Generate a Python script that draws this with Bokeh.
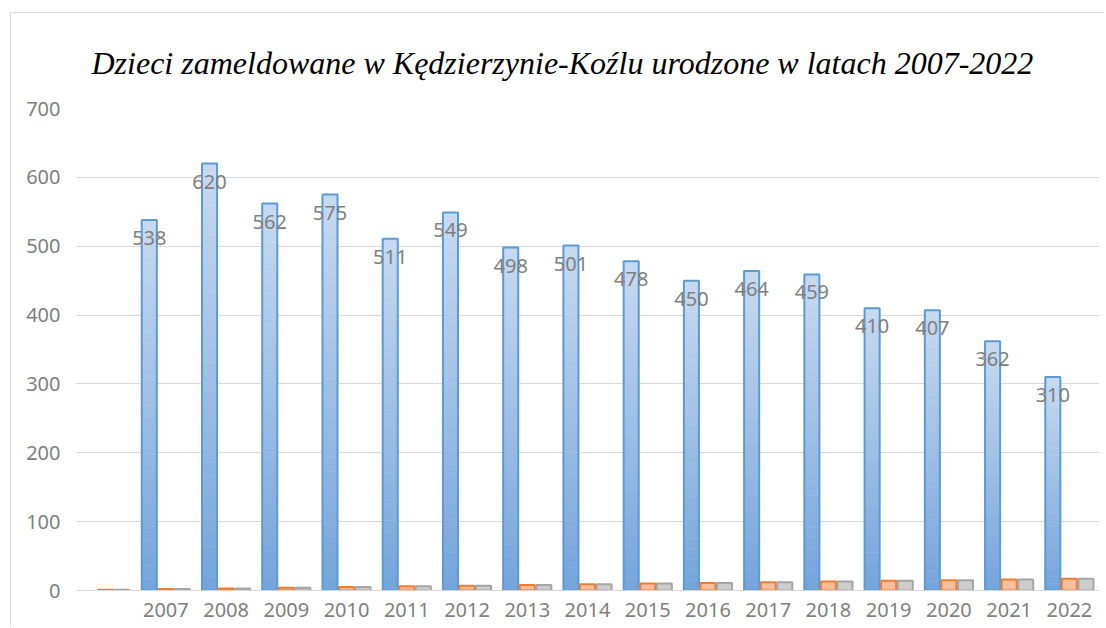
import numpy as np
from bokeh.plotting import figure
from bokeh.models import FixedTicker, Range1d
from bokeh.core.properties import value
from bokeh.embed import file_html
from bokeh.resources import INLINE

# ---- data ----
categories = ["", "2007", "2008", "2009", "2010", "2011", "2012", "2013", "2014",
              "2015", "2016", "2017", "2018", "2019", "2020", "2021", "2022"]
births = [None, 538, 620, 562, 575, 511, 549, 498, 501, 478, 450, 464, 459,
          410, 407, 362, 310]
series2 = [1, 2, 3, 4, 5, 6, 7, 8, 9, 10, 11, 12, 13, 14, 15, 16, 17]
series3 = [1, 2, 3, 4, 5, 6, 7, 8, 9, 10, 11, 12, 13, 14, 15, 16, 17]
y_ticks = [0, 100, 200, 300, 400, 500, 600, 700]
title_text = "Dzieci zameldowane w Kędzierzynie-Koźlu urodzone w latach 2007-2022"

# ---- style ----
BAR_W = 0.25
OFF = 0.275
LABEL_FONT = "Noto Sans"
GRAY_TXT = "#7f7f7f"

p = figure(width=1094, height=614,
           x_range=Range1d(0, len(categories)), y_range=Range1d(0, 700),
           output_backend="svg", toolbar_location=None,
           min_border_left=64, min_border_right=6, min_border_top=95,
           min_border_bottom=37)
p.margin = (12, 0, 0, 10)
p.styles = {"border-top": "1px solid #d9d9d9", "border-left": "1px solid #d9d9d9"}

p.title.text = title_text
p.title.text_font = "Liberation Serif"
p.title.text_font_style = "italic"
p.title.text_font_size = "32px"
p.title.text_color = "#000000"
p.title.align = "left"
p.title.offset = 16
p.title.standoff = 56

p.outline_line_color = None
p.background_fill_color = "white"
p.border_fill_color = "white"

# axes
centers = [i + 0.5 for i in range(len(categories))]
p.xaxis.ticker = FixedTicker(ticks=centers)
p.xaxis.major_label_overrides = {c: lab for c, lab in zip(centers, categories)}
p.xaxis.axis_line_color = "#d9d9d9"
p.xaxis.axis_line_width = 1
p.xaxis.major_tick_line_color = None
p.xaxis.minor_tick_line_color = None
p.xaxis.major_label_text_font = LABEL_FONT
p.xaxis.major_label_text_font_size = "20px"
p.xaxis.major_label_text_color = GRAY_TXT
p.xaxis.major_label_standoff = 6

p.yaxis.ticker = FixedTicker(ticks=y_ticks)
p.yaxis.axis_line_color = None
p.yaxis.major_tick_line_color = None
p.yaxis.minor_tick_line_color = None
p.yaxis.major_label_text_font = LABEL_FONT
p.yaxis.major_label_text_font_size = "20px"
p.yaxis.major_label_text_color = GRAY_TXT
p.yaxis.major_label_standoff = 9

p.xgrid.grid_line_color = None
p.ygrid.ticker = FixedTicker(ticks=y_ticks)
p.ygrid.grid_line_color = "#d9d9d9"
p.ygrid.grid_line_width = 1

# ---- blue bars with vertical gradient ----
N = 30
light = np.array([0xc8, 0xda, 0xf0])
dark = np.array([0x74, 0xa4, 0xda])
gx, gb, gt, gc = [], [], [], []
bx, bt, lab = [], [], []
for i, v in enumerate(births):
    if v is None:
        continue
    xc = i + 0.5 - OFF
    bx.append(xc)
    bt.append(v)
    lab.append(str(v))
    for k in range(N):
        t = (k + 0.5) / N
        c = dark + (light - dark) * t
        gx.append(xc)
        gb.append(v * k / N)
        gt.append(v * (k + 1) / N)
        gc.append("#%02x%02x%02x" % tuple(int(round(q)) for q in c))

p.vbar(x=gx, bottom=gb, top=gt, width=BAR_W, fill_color=gc, line_color=gc,
       line_width=0.6)
p.vbar(x=bx, bottom=0, top=bt, width=BAR_W, fill_color=None,
       line_color="#5b9bd5", line_width=2)

# ---- orange and gray bars ----
p.vbar(x=[c for c in centers], bottom=0, top=series2, width=BAR_W,
       fill_color="#f7bd9c", line_color="#ed7d31", line_width=2)
p.vbar(x=[c + OFF for c in centers], bottom=0, top=series3, width=BAR_W,
       fill_color="#cdcdcd", line_color="#a5a5a5", line_width=2)

# ---- data labels ----
p.text(x=bx, y=bt, text=lab, text_align="center", text_baseline="middle",
       y_offset=18, text_color=GRAY_TXT, text_font_size="20px",
       text_font=value(LABEL_FONT))

open("out.html", "w").write(file_html(p, INLINE))
